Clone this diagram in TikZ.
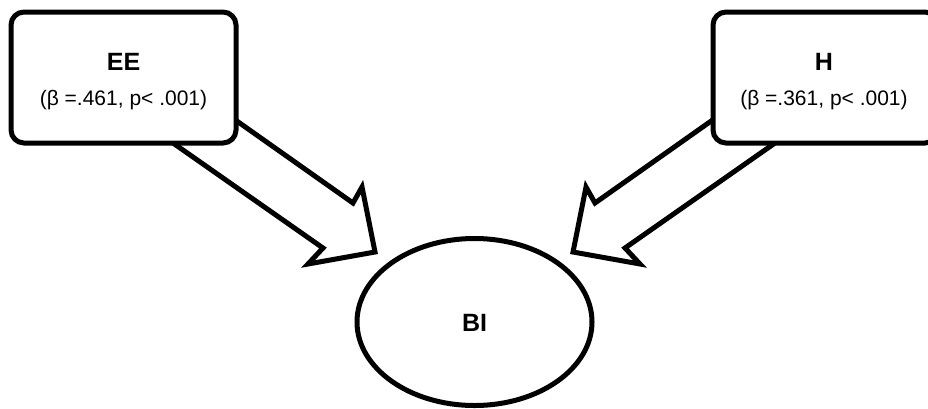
\documentclass[tikz,border=0pt]{standalone}
\usepackage{fontspec}
\setmainfont{Liberation Sans}
\usetikzlibrary{shapes.geometric}
\begin{document}
\begin{tikzpicture}[x=1pt,y=-1pt,
  box/.style={draw=black,line width=5pt,fill=white,rounded corners=13pt,
    minimum width=225pt,minimum height=131pt,inner sep=0pt,anchor=center},
  oval/.style={ellipse,draw=black,line width=5pt,fill=white,
    minimum width=235pt,minimum height=167pt,inner sep=0pt},
  blockarrow/.style={draw=black,line width=5pt,fill=white,line join=miter,miter limit=10},
  title/.style={font=\fontsize{25}{30}\selectfont\bfseries,inner sep=0pt,anchor=base},
  stat/.style={font=\fontsize{21}{25}\selectfont,inner sep=0pt,anchor=base}]
\useasboundingbox (0,0) rectangle (928,408);
% block arrows (drawn first, boxes cover their tails)
\draw[blockarrow] (183,83) -- (353,203) -- (362,187) -- (375,252) -- (308,264) -- (323,248) -- (143,122) -- cycle;
\draw[blockarrow] (765,83) -- (595,203) -- (586,187) -- (573,252) -- (640,264) -- (625,248) -- (805,122) -- cycle;
% boxes
\node[box] (ee) at (123.5,77.5) {};
\node[title] (eet) at (123.5,70) {EE};
\node[stat] (ees) at (123.5,105) {(β =.461, p< .001)};
\node[box] (h) at (825.5,77.5) {};
\node[title] (ht) at (824,70) {H};
\node[stat] (hs) at (824,105) {(β =.361, p< .001)};
% ellipse
\node[oval] (bi) at (474.5,322) {};
\node[title] (bit) at (474.5,331) {BI};
\end{tikzpicture}
\end{document}
